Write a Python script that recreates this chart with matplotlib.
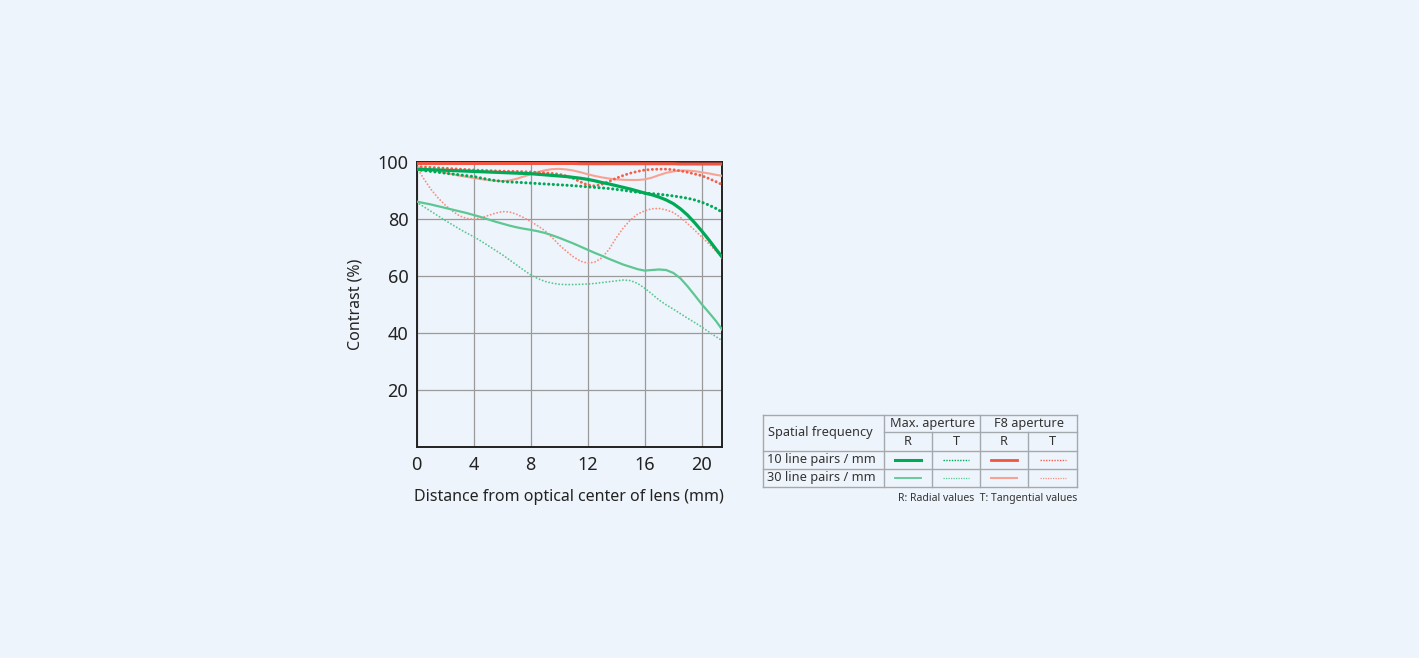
import matplotlib
matplotlib.use("Agg")
import matplotlib.pyplot as plt
from matplotlib.lines import Line2D

plt.rcParams['font.family'] = ['Noto Sans', 'DejaVu Sans']

# ---------------- data ----------------
distance_mm = [0, 0.5, 1, 1.5, 2, 2.5, 3, 3.5, 4, 4.5, 5, 5.5, 6, 6.5, 7, 7.5, 8, 8.5, 9, 9.5,
               10, 10.5, 11, 11.5, 12, 12.5, 13, 13.5, 14, 14.5, 15, 15.5, 16, 16.5, 17, 17.5,
               18, 18.5, 19, 19.5, 20, 20.5, 21, 21.5]

max_10lp_R = [97.5, 97.45, 97.4, 97.3, 97.2, 97.1, 97.0, 96.9, 96.8, 96.7, 96.6, 96.5, 96.4, 96.3,
              96.2, 96.1, 96.0, 95.8, 95.6, 95.4, 95.2, 95.0, 94.7, 94.4, 94.0, 93.5, 92.9, 92.4,
              91.8, 91.2, 90.6, 89.9, 89.2, 88.6, 87.8, 86.8, 85.5, 83.7, 81.5, 78.8, 75.9, 72.8,
              69.5, 66.3]
max_10lp_T = [97.5, 97.1, 96.8, 96.5, 96.2, 95.9, 95.6, 95.3, 95.0, 94.5, 94.0, 93.6, 93.3, 93.1,
              93.0, 92.85, 92.7, 92.55, 92.4, 92.25, 92.1, 91.95, 91.8, 91.6, 91.4, 91.2, 91.0, 90.8,
              90.5, 90.2, 89.8, 89.5, 89.2, 89.0, 88.8, 88.5, 88.2, 87.8, 87.4, 86.8, 86.0, 85.0,
              83.8, 82.3]
max_30lp_R = [86.2, 85.7, 85.2, 84.6, 84.0, 83.4, 82.8, 82.2, 81.5, 80.8, 80.0, 79.2, 78.5, 77.8,
              77.2, 76.7, 76.3, 75.8, 75.2, 74.4, 73.5, 72.5, 71.5, 70.4, 69.3, 68.2, 67.2, 66.1,
              65.1, 64.1, 63.3, 62.5, 62.0, 62.2, 62.4, 62.2, 61.2, 59.3, 56.5, 53.4, 50.2, 47.3,
              44.3, 40.8]
max_30lp_T = [86.0, 84.4, 82.8, 81.2, 79.6, 78.1, 76.6, 75.2, 73.9, 72.4, 70.8, 69.2, 67.6, 65.8,
              64.0, 62.2, 60.5, 59.2, 58.2, 57.6, 57.2, 57.1, 57.1, 57.2, 57.3, 57.5, 57.8, 58.1,
              58.4, 58.7, 58.5, 57.5, 55.8, 53.8, 51.7, 50.0, 48.5, 46.9, 45.3, 43.8, 42.2, 40.5,
              38.8, 37.2]
f8_10lp_R = [99.6, 99.6, 99.6, 99.6, 99.6, 99.6, 99.6, 99.6, 99.6, 99.6, 99.6, 99.6, 99.6, 99.6,
             99.6, 99.6, 99.6, 99.6, 99.6, 99.6, 99.6, 99.6, 99.6, 99.5, 99.5, 99.5, 99.5, 99.5,
             99.5, 99.5, 99.5, 99.5, 99.5, 99.5, 99.5, 99.5, 99.5, 99.4, 99.4, 99.4, 99.4, 99.4,
             99.4, 99.4]
f8_10lp_T = [98.5, 98.35, 98.2, 98.05, 97.9, 97.75, 97.6, 97.45, 97.3, 97.2, 97.1, 97.0, 96.9,
             96.85, 96.8, 96.7, 96.6, 96.45, 96.3, 96.1, 95.8, 95.2, 94.3, 93.1, 92.0, 91.7, 92.3,
             93.3, 94.4, 95.4, 96.2, 96.8, 97.3, 97.5, 97.6, 97.6, 97.4, 97.0, 96.5, 95.9, 95.3,
             94.3, 93.2, 92.0]
f8_30lp_R = [98.2, 97.8, 97.3, 96.8, 96.3, 95.8, 95.3, 94.9, 94.5, 94.1, 93.8, 93.5, 93.4, 93.6,
             94.2, 95.0, 95.8, 96.6, 97.2, 97.6, 97.7, 97.5, 97.1, 96.5, 95.8, 95.2, 94.7, 94.3,
             94.0, 93.85, 93.8, 93.8, 94.0, 94.6, 95.5, 96.3, 96.8, 97.1, 97.1, 96.9, 96.5, 96.1,
             95.6, 95.2]
f8_30lp_T = [98.3, 94.2, 90.5, 87.5, 85.0, 82.9, 81.2, 80.3, 80.0, 80.5, 81.3, 82.1, 82.7, 82.6,
             81.8, 80.6, 79.2, 77.7, 76.0, 73.6, 71.0, 68.8, 66.8, 65.3, 64.6, 65.0, 66.5, 69.5,
             73.5, 77.0, 79.8, 81.8, 83.0, 83.7, 83.8, 83.3, 82.4, 80.7, 78.5, 76.2, 73.8, 71.4,
             68.8, 66.0]

x_ticks = [0, 4, 8, 12, 16, 20]
y_ticks = [20, 40, 60, 80, 100]

# ---------------- styles ----------------
BG = '#EEF4FB'
GREEN = '#00A956'
GREEN_L = '#5CC792'
RED = '#F2553F'
RED_D = '#F2604C'
SALMON = '#F9A294'
SALMON_D = '#F78F80'
DOT_THICK = (0, (0.05, 1.45))
DOT_THIN = (0, (0.05, 1.75))

series = [
    (f8_30lp_T, SALMON_D, 1.35, DOT_THIN),
    (f8_30lp_R, SALMON, 1.5, '-'),
    (max_30lp_T, GREEN_L, 1.35, DOT_THIN),
    (max_30lp_R, GREEN_L, 1.6, '-'),
    (f8_10lp_T, RED_D, 2.1, DOT_THICK),
    (max_10lp_T, GREEN, 2.2, DOT_THICK),
    (max_10lp_R, GREEN, 2.3, '-'),
    (f8_10lp_R, RED, 2.2, '-'),
]

W, H = 1419, 658
fig = plt.figure(figsize=(W / 100, H / 100), dpi=100)
fig.patch.set_facecolor(BG)

ax = fig.add_axes([416.7 / W, 1 - 447.3 / H, (721.7 - 416.7) / W, (447.3 - 162.3) / H])
ax.set_facecolor(BG)
for vals, c, lw, ls in series:
    ax.plot(distance_mm, vals, color=c, lw=lw, linestyle=ls, solid_capstyle='round',
            dash_capstyle='round', solid_joinstyle='round', zorder=3)

ax.set_xlim(0, 21.4)
ax.set_ylim(0, 100)
ax.set_xticks(x_ticks)
ax.set_yticks(y_ticks)
ax.set_xticklabels([str(v) for v in x_ticks], fontsize=13, color='#222222')
ax.set_yticklabels([str(v) for v in y_ticks], fontsize=13, color='#222222')
ax.tick_params(length=0, pad=6)
ax.grid(True, color='#9A9A9A', lw=0.9, zorder=1)
for s in ax.spines.values():
    s.set_color('#222222')
    s.set_linewidth(1.4)
ax.set_xlabel('Distance from optical center of lens (mm)', fontsize=11.5, color='#222222', labelpad=11)
ax.set_ylabel('Contrast (%)', fontsize=11.5, color='#222222', labelpad=10)

# ---------------- legend table ----------------
lax = fig.add_axes([0, 0, 1, 1], zorder=5)
lax.set_xlim(0, W)
lax.set_ylim(H, 0)
lax.axis('off')

GRID = '#A4A9AE'
L, R_ = 763, 1077
T, B = 415, 487
cols = [884, 932, 980, 1028]
rows = [432, 450.7, 469]

def hline(y, x0, x1):
    lax.add_line(Line2D([x0, x1], [y, y], color=GRID, lw=1.0))

def vline(x, y0, y1):
    lax.add_line(Line2D([x, x], [y0, y1], color=GRID, lw=1.0))

hline(T, L, R_)
hline(B, L, R_)
hline(rows[0], cols[0], R_)
hline(rows[1], L, R_)
hline(rows[2], L, R_)
vline(L, T, B)
vline(R_, T, B)
vline(cols[0], T, B)
vline(cols[2], T, B)
vline(cols[1], rows[0], B)
vline(cols[3], rows[0], B)

tc = '#333333'
fs = 9.2
lax.text(768, (T + rows[1]) / 2, 'Spatial frequency', fontsize=fs, color=tc, va='center', ha='left')
lax.text((cols[0] + cols[2]) / 2, (T + rows[0]) / 2, 'Max. aperture', fontsize=fs, color=tc, va='center', ha='center')
lax.text((cols[2] + R_) / 2, (T + rows[0]) / 2, 'F8 aperture', fontsize=fs, color=tc, va='center', ha='center')
edges = [cols[0], cols[1], cols[2], cols[3], R_]
for i, lab in enumerate(['R', 'T', 'R', 'T']):
    lax.text((edges[i] + edges[i + 1]) / 2, (rows[0] + rows[1]) / 2, lab, fontsize=fs, color=tc,
             va='center', ha='center')
lax.text(767, (rows[1] + rows[2]) / 2, '10 line pairs / mm', fontsize=fs, color=tc, va='center', ha='left')
lax.text(767, (rows[2] + B) / 2, '30 line pairs / mm', fontsize=fs, color=tc, va='center', ha='left')

leg_styles = [
    [(GREEN, 2.2, '-'), (GREEN, 1.0, (0, (1, 1))), (RED, 2.0, '-'), (RED_D, 1.0, (0, (1, 1)))],
    [(GREEN_L, 1.3, '-'), (GREEN_L, 0.9, (0, (1, 1))), (SALMON, 1.5, '-'), (SALMON_D, 0.9, (0, (1, 1)))],
]
for r, yc in enumerate([(rows[1] + rows[2]) / 2, (rows[2] + B) / 2]):
    for ci in range(4):
        xc = (edges[ci] + edges[ci + 1]) / 2
        c, lw, ls = leg_styles[r][ci]
        lax.add_line(Line2D([xc - 13, xc + 13], [yc, yc], color=c, lw=lw, linestyle=ls))

lax.text(R_, 498, 'R: Radial values  T: Tangential values', fontsize=7.5, color=tc, va='center', ha='right')

fig.savefig('out.png', dpi=100, facecolor=BG)
